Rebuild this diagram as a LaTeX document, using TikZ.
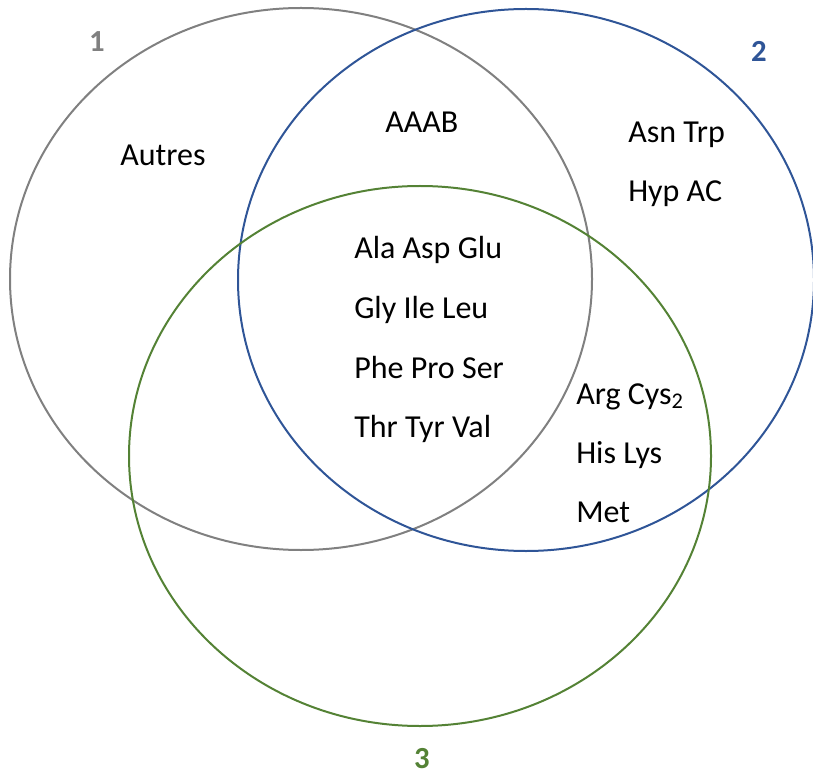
\documentclass[tikz,border=0pt]{standalone}
\usepackage{fontspec}
\setmainfont{Carlito}
\definecolor{setgray}{RGB}{128,128,128}
\definecolor{setblue}{RGB}{47,85,151}
\definecolor{setgreen}{RGB}{84,130,53}
\tikzset{
  set circle/.style={line width=1.5pt},
  set label/.style={anchor=base, inner sep=0pt, font=\fontsize{23}{27}\selectfont\bfseries},
  acid text/.style={anchor=base west, inner sep=0pt, font=\fontsize{24}{28}\selectfont}
}
\begin{document}
\begin{tikzpicture}[x=0.75pt, y=-0.75pt]
    \useasboundingbox (0,0) rectangle (813,773);
    % the three sets
    \draw[set circle, setgray] (301,279) ellipse [x radius=291, y radius=271];
    \draw[set circle, setblue] (526,280) ellipse [x radius=288, y radius=271];
    \draw[set circle, setgreen] (420,456) ellipse [x radius=291, y radius=270];
    \node[set label, text=setgray] (one) at (97,52) {1};
    \node[set label, text=setblue] (two) at (759,62) {2};
    \node[set label, text=setgreen] (three) at (422,768) {3};
    % only in 1
    \node[acid text] (autres) at (120,166) {Autres};
    % 1 and 2
    \node[acid text] (aaab) at (385,133) {AAAB};
    % only in 2
    \node[acid text] (asn) at (628,143) {Asn Trp};
    \node[acid text] (hyp) at (628,202) {Hyp AC};
    % in all three
    \node[acid text] (ala) at (354,259) {Ala Asp Glu};
    \node[acid text] (gly) at (354,319) {Gly Ile Leu};
    \node[acid text] (phe) at (354,378) {Phe Pro Ser};
    \node[acid text] (thr) at (354,437) {Thr Tyr Val};
    % 2 and 3
    \node[acid text] (arg) at (576,404) {Arg Cys\textsubscript{2}};
    \node[acid text] (his) at (576,463) {His Lys};
    \node[acid text] (met) at (576,522) {Met};
\end{tikzpicture}
\end{document}
